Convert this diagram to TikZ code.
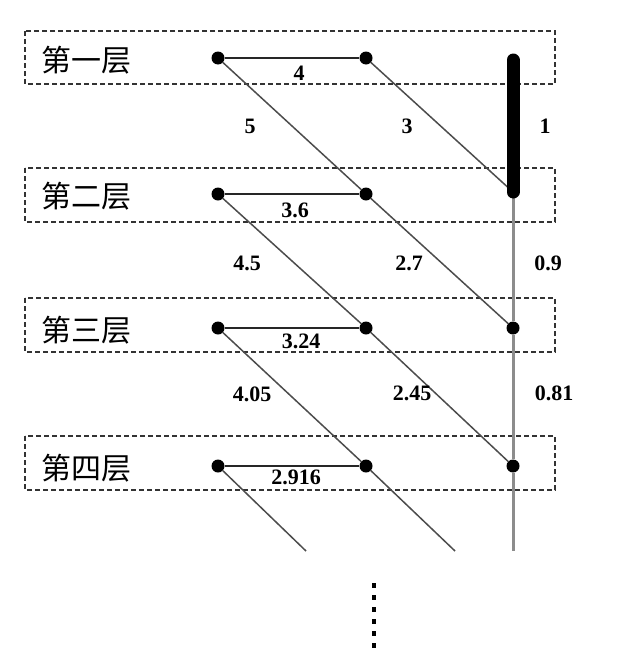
\documentclass[tikz,border=0pt]{standalone}
\usepackage{fontspec}
\setmainfont{Liberation Serif}
\newfontfamily\cjk{Noto Sans CJK SC}

\begin{document}
\begin{tikzpicture}[x=1pt,y=-1pt,
  layerbox/.style={draw=black!80, line width=1.1pt, dash pattern=on 5pt off 3pt},
  dot/.style={circle, fill=black, inner sep=0pt, minimum size=13pt},
  level/.style={draw=black!85, line width=1.8pt},
  link/.style={draw=black!70, line width=1.5pt},
  num/.style={font=\fontsize{22}{22}\selectfont\bfseries},
  layername/.style={font=\fontsize{30}{30}\selectfont\cjk}]
        \useasboundingbox (0,0) rectangle (626,664);
        % dashed layers
        \draw[layerbox] (25,31) rectangle ++(530,53);
        \draw[layerbox] (25,168) rectangle ++(530,54);
        \draw[layerbox] (25,298) rectangle ++(530,54);
        \draw[layerbox] (25,436) rectangle ++(530,54);
        \node[layername] (N1) at (86,60) {第一层};
        \node[layername] (N2) at (86,196) {第二层};
        \node[layername] (N3) at (86,330) {第三层};
        \node[layername] (N4) at (86,468) {第四层};
        % points
        \node[dot] (A1) at (218,58) {};
        \node[dot] (B1) at (366,58) {};
        \coordinate (C1) at (513,60);
        \node[dot] (A2) at (218,194) {};
        \node[dot] (B2) at (366,194) {};
        \coordinate (C2) at (513,192);
        \node[dot] (A3) at (218,328) {};
        \node[dot] (B3) at (366,328) {};
        \node[dot] (C3) at (513,328) {};
        \node[dot] (A4) at (218,466) {};
        \node[dot] (B4) at (366,466) {};
        \node[dot] (C4) at (513,466) {};
        \coordinate (E1) at (306,551);
        \coordinate (E2) at (455,551);
        \coordinate (E3) at (513,551);
        % lines
        \draw[draw=black!45, line width=3pt] (C2) -- (C3) -- (C4) -- (E3);
        \draw[level] (A1) -- (B1);
        \draw[level] (A2) -- (B2);
        \draw[level] (A3) -- (B3);
        \draw[level] (A4) -- (B4);
        \draw[link] (A1) -- (B2);
        \draw[link] (B1) -- (C2);
        \draw[link] (A2) -- (B3);
        \draw[link] (B2) -- (C3);
        \draw[link] (A3) -- (B4);
        \draw[link] (B3) -- (C4);
        \draw[link] (A4) -- (E1);
        \draw[link] (B4) -- (E2);
        \draw[line width=13pt, line cap=round] (C1) -- (C2);
        \draw[line width=4.5pt, dash pattern=on 4.5pt off 7.5pt] (374,583) -- (374,648);
        % weights
        \node[num] (w1) at (299,73) {4};
        \node[num] (w2) at (250,126) {5};
        \node[num] (w3) at (407,126) {3};
        \node[num] (w4) at (545,126) {1};
        \node[num] (w5) at (295,210) {3.6};
        \node[num] (w6) at (247,263) {4.5};
        \node[num] (w7) at (409,263) {2.7};
        \node[num] (w8) at (548,263) {0.9};
        \node[num] (w9) at (301,341) {3.24};
        \node[num] (w10) at (252,394) {4.05};
        \node[num] (w11) at (412,393) {2.45};
        \node[num] (w12) at (554,393) {0.81};
        \node[num] (w13) at (296,477) {2.916};
      \end{tikzpicture}
\end{document}
